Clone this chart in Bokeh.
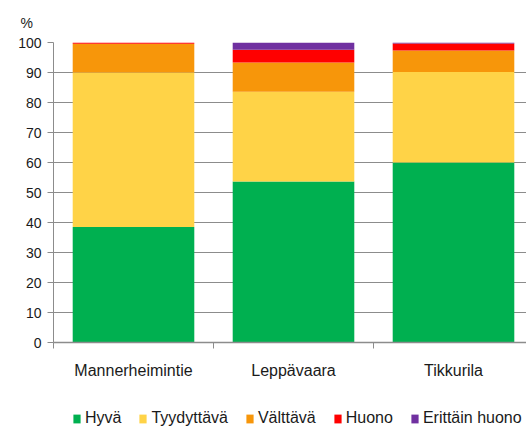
from bokeh.plotting import figure
from bokeh.layouts import column
from bokeh.models import ColumnDataSource, FixedTicker, Range1d, Legend, LegendItem, Title
from bokeh.embed import file_html
from bokeh.resources import INLINE

categories = ["Mannerheimintie", "Leppävaara", "Tikkurila"]
series = ["Hyvä", "Tyydyttävä", "Välttävä", "Huono", "Erittäin huono"]
hyva = [38.5, 53.7, 60.0]
tyydyttava = [51.5, 29.9, 30.2]
valttava = [9.6, 9.7, 7.1]
huono = [0.4, 4.3, 2.4]
erittain_huono = [0.0, 2.4, 0.3]
y_ticks = [0, 10, 20, 30, 40, 50, 60, 70, 80, 90, 100]
colors = ["#00b050", "#ffd347", "#f7960a", "#ff0000", "#7030a0"]

FONT = "Liberation Sans"

x_pos = [i + 0.5 for i in range(len(categories))]
src = ColumnDataSource(dict(x=x_pos, **{
    "Hyvä": hyva, "Tyydyttävä": tyydyttava, "Välttävä": valttava,
    "Huono": huono, "Erittäin huono": erittain_huono}))

p = figure(frame_width=473, frame_height=300, output_backend="svg", toolbar_location=None,
           x_range=Range1d(0, 473 / 160), y_range=Range1d(0, 100),
           min_border_left=53, min_border_right=0, min_border_top=41, min_border_bottom=59)
p.outline_line_color = None
p.background_fill_color = "white"

renderers = p.vbar_stack(series, x="x", width=0.76, color=colors, source=src, line_color=None)

p.xgrid.visible = False
p.ygrid.ticker = FixedTicker(ticks=y_ticks)
p.ygrid.grid_line_color = "#8c8c8c"
p.ygrid.grid_line_width = 1

ya = p.yaxis[0]
ya.ticker = FixedTicker(ticks=y_ticks)
ya.axis_line_color = "#8c8c8c"
ya.major_tick_line_color = "#8c8c8c"
ya.major_tick_out = 6
ya.major_tick_in = 0
ya.minor_tick_line_color = None
ya.major_label_text_font = FONT
ya.major_label_text_font_size = "14px"
ya.major_label_text_color = "#1a1a1a"
ya.major_label_standoff = 6

xa = p.xaxis[0]
xa.ticker = FixedTicker(ticks=x_pos, minor_ticks=[0, 1, 2, 3])
xa.major_label_overrides = {x: c for x, c in zip(x_pos, categories)}
xa.axis_line_color = "#8c8c8c"
xa.axis_line_width = 1.5
xa.major_tick_line_color = None
xa.major_tick_out = 0
xa.major_tick_in = 0
xa.minor_tick_line_color = "#8c8c8c"
xa.minor_tick_out = 6
xa.minor_tick_in = 0
xa.major_label_text_font = FONT
xa.major_label_text_font_size = "16px"
xa.major_label_text_color = "#1a1a1a"
xa.major_label_standoff = 13

p.title = Title(text="%", align="left", offset=-33, standoff=24, text_font=FONT,
                text_font_size="14px", text_font_style="normal", text_color="#1a1a1a")

# Legend in its own strip below the chart (proxy renderers with zero-height bars)
lf = figure(width=526, height=26, output_backend="svg", toolbar_location=None,
            x_axis_type=None, y_axis_type=None, x_range=Range1d(0, 1), y_range=Range1d(0, 1),
            min_border_left=0, min_border_right=0, min_border_top=0, min_border_bottom=0)
lf.outline_line_color = None
lf.grid.visible = False
legend_renderers = [lf.vbar(x=[0.5], top=[0], bottom=[0], width=0.01, color=c, line_color=None)
                    for c in colors]
legend = Legend(items=[LegendItem(label=s, renderers=[r]) for s, r in zip(series, legend_renderers)],
                orientation="horizontal", location=(19, 0),
                label_text_font=FONT, label_text_font_size="16px", label_text_color="#1a1a1a",
                glyph_width=9, glyph_height=11, label_standoff=4, spacing=17,
                padding=0, margin=0, border_line_color=None, background_fill_alpha=0)
lf.add_layout(legend, "center")

layout = column(p, lf, spacing=0)
open("out.html", "w").write(file_html(layout, INLINE))
